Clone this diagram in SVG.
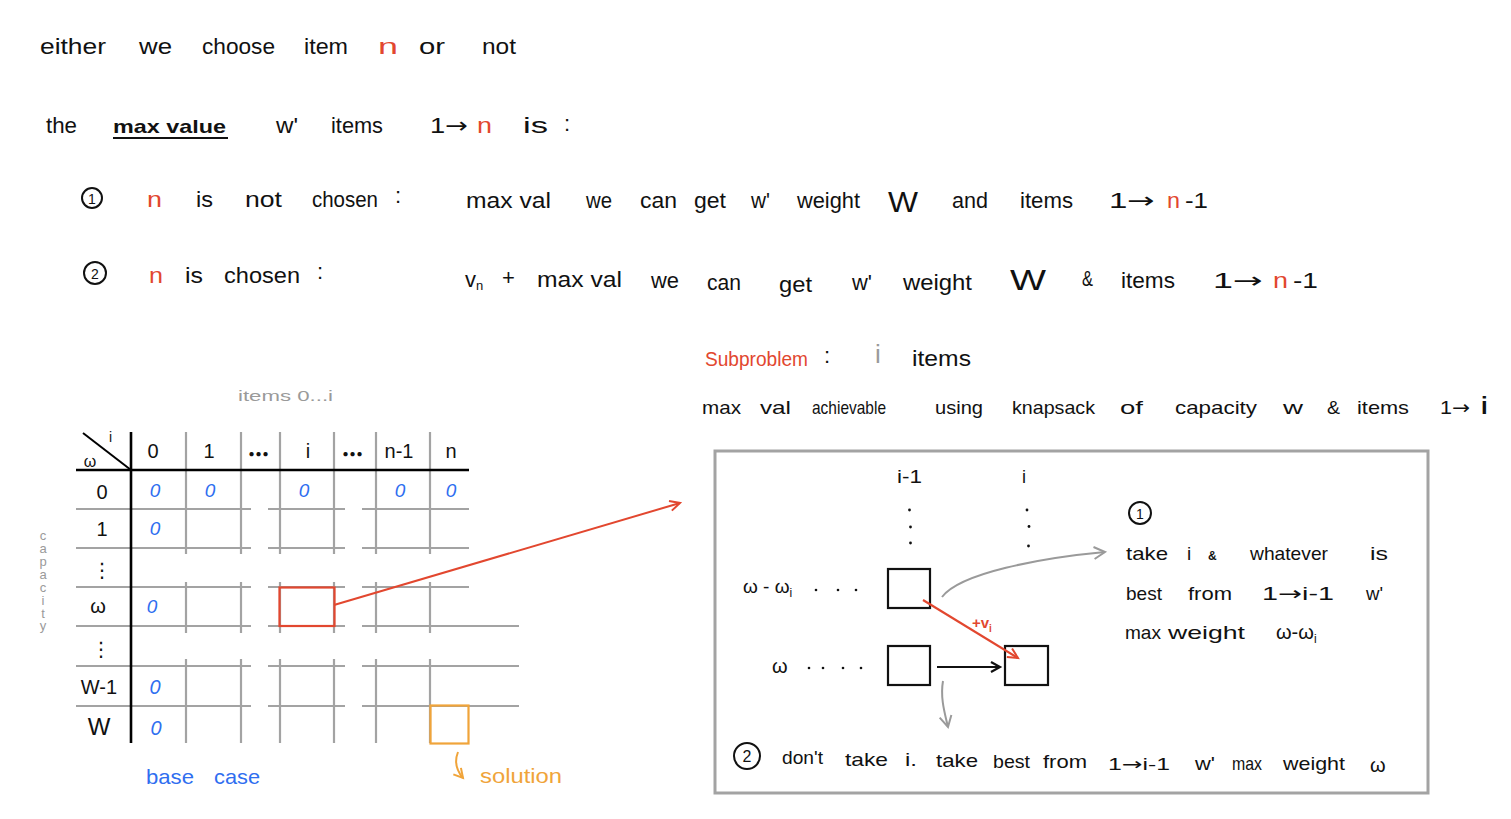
<svg xmlns="http://www.w3.org/2000/svg" width="1511" height="819" viewBox="0 0 1511 819">
<style>
text{font-family:"Liberation Sans","DejaVu Sans",sans-serif;font-size:22px;fill:#111}
.r{fill:#e2472f}
.b{fill:#2f6ef0}
.o{fill:#f0a43a}
.g{fill:#9a9a9a}
.s{font-size:19px}
.tb{font-size:20px}
.ar{font-family:"DejaVu Sans",sans-serif}
.grid{stroke:#a3a3a3;stroke-width:2.2;fill:none}
.thick{stroke:#000;stroke-width:2.6;fill:none}
.bx{stroke:#111;stroke-width:2.2;fill:none}
</style>
<defs>
<marker id="mr" markerUnits="userSpaceOnUse" markerWidth="14" markerHeight="14" refX="11" refY="6" orient="auto"><path d="M1,1 L11,6 L1,11" fill="none" stroke="#e2472f" stroke-width="2"/></marker>
<marker id="mk" markerUnits="userSpaceOnUse" markerWidth="14" markerHeight="14" refX="11" refY="6" orient="auto"><path d="M2,1 L11,6 L2,11" fill="none" stroke="#111" stroke-width="2.2"/></marker>
<marker id="mg" markerUnits="userSpaceOnUse" markerWidth="16" markerHeight="16" refX="13" refY="7" orient="auto"><path d="M2,1 L13,7 L2,13" fill="none" stroke="#9a9a9a" stroke-width="2"/></marker>
<marker id="mo" markerUnits="userSpaceOnUse" markerWidth="14" markerHeight="14" refX="11" refY="6" orient="auto"><path d="M2,1 L11,6 L2,11" fill="none" stroke="#f0a43a" stroke-width="2"/></marker>
</defs>
<rect width="1511" height="819" fill="#fff"/>

<g id="intro">
<text x="40" y="54" textLength="66" lengthAdjust="spacingAndGlyphs">either</text>
<text x="139" y="54" textLength="33" lengthAdjust="spacingAndGlyphs">we</text>
<text x="202" y="54" textLength="73" lengthAdjust="spacingAndGlyphs">choose</text>
<text x="304" y="54" textLength="44" lengthAdjust="spacingAndGlyphs">item</text>
<text class="r" x="378" y="54" textLength="20" lengthAdjust="spacingAndGlyphs">n</text>
<text x="419" y="54" textLength="26" lengthAdjust="spacingAndGlyphs">or</text>
<text x="482" y="54" textLength="34" lengthAdjust="spacingAndGlyphs">not</text>

<text x="46" y="133" textLength="31" lengthAdjust="spacingAndGlyphs">the</text>
<text x="113" y="133" textLength="113" lengthAdjust="spacingAndGlyphs" style="font-size:19px;font-weight:bold">max value</text>
<line x1="113" y1="138" x2="228" y2="138" stroke="#111" stroke-width="2"/>
<text x="276" y="133" textLength="22" lengthAdjust="spacingAndGlyphs">w'</text>
<text x="331" y="133" textLength="52" lengthAdjust="spacingAndGlyphs">items</text>
<text x="430" y="133" textLength="38" lengthAdjust="spacingAndGlyphs">1<tspan class="ar">→</tspan></text>
<text class="r" x="477" y="133" textLength="15" lengthAdjust="spacingAndGlyphs">n</text>
<text x="523" y="133" textLength="25" lengthAdjust="spacingAndGlyphs">is</text>
<text x="564" y="131">:</text>
</g>

<g id="case1">
<circle cx="92" cy="198" r="10" fill="none" stroke="#111" stroke-width="2"/>
<text x="92" y="204" text-anchor="middle" style="font-size:14px">1</text>
<text class="r" x="147" y="207" textLength="15" lengthAdjust="spacingAndGlyphs">n</text>
<text x="196" y="207" textLength="17" lengthAdjust="spacingAndGlyphs">is</text>
<text x="245" y="207" textLength="37" lengthAdjust="spacingAndGlyphs">not</text>
<text x="312" y="207" textLength="66" lengthAdjust="spacingAndGlyphs">chosen</text>
<text x="395" y="203">:</text>
<text x="466" y="208" textLength="85" lengthAdjust="spacingAndGlyphs">max val</text>
<text x="586" y="208" textLength="26" lengthAdjust="spacingAndGlyphs">we</text>
<text x="640" y="208" textLength="37" lengthAdjust="spacingAndGlyphs">can</text>
<text x="694" y="208" textLength="32" lengthAdjust="spacingAndGlyphs">get</text>
<text x="751" y="208" textLength="19" lengthAdjust="spacingAndGlyphs">w'</text>
<text x="797" y="208" textLength="63" lengthAdjust="spacingAndGlyphs">weight</text>
<text x="888" y="212" textLength="30" lengthAdjust="spacingAndGlyphs" style="font-size:30px">W</text>
<text x="952" y="208" textLength="36" lengthAdjust="spacingAndGlyphs">and</text>
<text x="1020" y="208" textLength="53" lengthAdjust="spacingAndGlyphs">items</text>
<text x="1109" y="208" textLength="46" lengthAdjust="spacingAndGlyphs">1<tspan class="ar">→</tspan></text>
<text class="r" x="1167" y="208" textLength="13" lengthAdjust="spacingAndGlyphs">n</text>
<text x="1185" y="208" textLength="23" lengthAdjust="spacingAndGlyphs">-1</text>
</g>

<g id="case2">
<circle cx="95" cy="273" r="11" fill="none" stroke="#111" stroke-width="2"/>
<text x="95" y="279" text-anchor="middle" style="font-size:14px">2</text>
<text class="r" x="149" y="283" textLength="14" lengthAdjust="spacingAndGlyphs">n</text>
<text x="185" y="283" textLength="18" lengthAdjust="spacingAndGlyphs">is</text>
<text x="224" y="283" textLength="76" lengthAdjust="spacingAndGlyphs">chosen</text>
<text x="317" y="279">:</text>
<text x="465" y="287">v<tspan style="font-size:13px" dy="3">n</tspan></text>
<text x="502" y="285">+</text>
<text x="537" y="287" textLength="85" lengthAdjust="spacingAndGlyphs">max val</text>
<text x="651" y="288" textLength="28" lengthAdjust="spacingAndGlyphs">we</text>
<text x="707" y="290" textLength="34" lengthAdjust="spacingAndGlyphs">can</text>
<text x="779" y="292" textLength="33" lengthAdjust="spacingAndGlyphs">get</text>
<text x="852" y="290" textLength="20" lengthAdjust="spacingAndGlyphs">w'</text>
<text x="903" y="290" textLength="69" lengthAdjust="spacingAndGlyphs">weight</text>
<text x="1010" y="290" textLength="36" lengthAdjust="spacingAndGlyphs" style="font-size:30px">W</text>
<text x="1082" y="286" textLength="11" lengthAdjust="spacingAndGlyphs">&amp;</text>
<text x="1121" y="288" textLength="54" lengthAdjust="spacingAndGlyphs">items</text>
<text x="1213" y="288" textLength="50" lengthAdjust="spacingAndGlyphs">1<tspan class="ar">→</tspan></text>
<text class="r" x="1273" y="288" textLength="15" lengthAdjust="spacingAndGlyphs">n</text>
<text x="1293" y="288" textLength="25" lengthAdjust="spacingAndGlyphs">-1</text>
</g>

<g id="subproblem">
<text class="r" x="705" y="366" textLength="103" lengthAdjust="spacingAndGlyphs" style="font-size:20px">Subproblem</text>
<text x="824" y="363">:</text>
<text class="g" x="875" y="363" style="font-size:26px">i</text>
<text x="912" y="366" textLength="59" lengthAdjust="spacingAndGlyphs">items</text>
<text x="702" y="414" textLength="39" lengthAdjust="spacingAndGlyphs" class="s">max</text>
<text x="760" y="414" textLength="31" lengthAdjust="spacingAndGlyphs" class="s">val</text>
<text x="812" y="414" textLength="74" lengthAdjust="spacingAndGlyphs" class="s">achievable</text>
<text x="935" y="414" textLength="48" lengthAdjust="spacingAndGlyphs" class="s">using</text>
<text x="1012" y="414" textLength="83" lengthAdjust="spacingAndGlyphs" class="s">knapsack</text>
<text x="1120" y="414" textLength="23" lengthAdjust="spacingAndGlyphs" class="s">of</text>
<text x="1175" y="414" textLength="82" lengthAdjust="spacingAndGlyphs" class="s">capacity</text>
<text x="1283" y="414" textLength="20" lengthAdjust="spacingAndGlyphs" class="s">w</text>
<text x="1327" y="414" textLength="13" lengthAdjust="spacingAndGlyphs" class="s">&amp;</text>
<text x="1357" y="414" textLength="52" lengthAdjust="spacingAndGlyphs" class="s">items</text>
<text x="1440" y="414" textLength="30" lengthAdjust="spacingAndGlyphs" class="s">1<tspan class="ar">→</tspan></text>
<text x="1481" y="414" style="font-size:24px;font-weight:bold">i</text>
</g>

<g id="table">
<text class="g" x="238" y="401" textLength="95" lengthAdjust="spacingAndGlyphs" style="font-size:15px">items 0...i</text>
<text class="g" style="font-size:13px" text-anchor="middle"><tspan x="43" y="540">c</tspan><tspan x="43" y="553">a</tspan><tspan x="43" y="566">p</tspan><tspan x="43" y="579">a</tspan><tspan x="43" y="592">c</tspan><tspan x="43" y="605">i</tspan><tspan x="43" y="618">t</tspan><tspan x="43" y="630">y</tspan></text>

<path class="grid" d="M186 432V554M186 582V633M186 659V743 M241 432V554M241 582V633M241 659V743 M280 432V554M280 582V633M280 659V743 M334 432V554M334 582V633M334 659V743 M376 432V554M376 582V633M376 659V743 M430 432V554M430 582V633M430 659V743"/>
<path class="grid" d="M76 509H251M268 509H345M362 509H469 M76 548H251M268 548H345M362 548H469 M76 587H251M268 587H345M362 587H469 M76 626H251M268 626H345M362 626H519 M76 666H251M268 666H345M362 666H519 M76 706H251M268 706H345M362 706H519"/>
<path class="thick" d="M76 470H469 M131 432V743"/>
<path d="M83 433L131 470" stroke="#000" stroke-width="2" fill="none"/>
<text x="109" y="442" style="font-size:14px">i</text>
<text x="90" y="467" text-anchor="middle" style="font-size:16px">ω</text>

<text x="153" y="458" text-anchor="middle" class="tb">0</text>
<text x="209" y="458" text-anchor="middle" class="tb">1</text>
<text x="259" y="457" text-anchor="middle" style="font-size:10px;letter-spacing:1px">●●●</text>
<text x="308" y="458" text-anchor="middle" class="tb">i</text>
<text x="353" y="457" text-anchor="middle" style="font-size:10px;letter-spacing:1px">●●●</text>
<text x="399" y="458" text-anchor="middle" class="tb">n-1</text>
<text x="451" y="458" text-anchor="middle" class="tb">n</text>

<text x="102" y="499" text-anchor="middle" class="tb">0</text>
<text x="102" y="536" text-anchor="middle" class="tb">1</text>
<text x="102" y="577" text-anchor="middle" class="tb">⋮</text>
<text x="98" y="613" text-anchor="middle" class="tb">ω</text>
<text x="101" y="656" text-anchor="middle" class="tb">⋮</text>
<text x="99" y="694" text-anchor="middle" class="tb">W-1</text>
<text x="99" y="735" text-anchor="middle" style="font-size:24px">W</text>

<g style="font-style:italic">
<text class="b" x="155" y="497" text-anchor="middle" style="font-size:19px">0</text>
<text class="b" x="210" y="497" text-anchor="middle" style="font-size:19px">0</text>
<text class="b" x="304" y="497" text-anchor="middle" style="font-size:19px">0</text>
<text class="b" x="400" y="497" text-anchor="middle" style="font-size:19px">0</text>
<text class="b" x="451" y="497" text-anchor="middle" style="font-size:19px">0</text>
<text class="b" x="155" y="535" text-anchor="middle" style="font-size:19px">0</text>
<text class="b" x="152" y="613" text-anchor="middle" style="font-size:19px">0</text>
<text class="b" x="155" y="694" text-anchor="middle" style="font-size:20px">0</text>
<text class="b" x="156" y="735" text-anchor="middle" style="font-size:20px">0</text>
</g>

<rect x="279.5" y="587.5" width="55" height="38.5" fill="none" stroke="#e2472f" stroke-width="2.2"/>
<rect x="430.5" y="705.5" width="38" height="38" fill="none" stroke="#f0a43a" stroke-width="2.2"/>
<text class="b" x="146" y="784" textLength="48" lengthAdjust="spacingAndGlyphs" style="font-size:21px">base</text>
<text class="b" x="214" y="784" textLength="46" lengthAdjust="spacingAndGlyphs" style="font-size:21px">case</text>
<text class="o" x="480" y="783" textLength="82" lengthAdjust="spacingAndGlyphs" style="font-size:20px">solution</text>
</g>

<g id="recurrence-box">
<rect x="715" y="451" width="713" height="342" fill="none" stroke="#a3a3a3" stroke-width="3"/>
<text x="897" y="483" textLength="25" lengthAdjust="spacingAndGlyphs" style="font-size:18px">i-1</text>
<text x="1022" y="483" style="font-size:18px">i</text>
<g fill="#111">
<circle cx="909.5" cy="510" r="1.4"/><circle cx="910.5" cy="527" r="1.4"/><circle cx="910.5" cy="543" r="1.4"/>
<circle cx="1027" cy="510" r="1.4"/><circle cx="1029" cy="526.5" r="1.4"/><circle cx="1028.5" cy="546" r="1.4"/>
<circle cx="816" cy="590" r="1.3"/><circle cx="838" cy="590" r="1.3"/><circle cx="856" cy="590" r="1.3"/>
<circle cx="809" cy="668" r="1.3"/><circle cx="823" cy="668" r="1.3"/><circle cx="843" cy="668" r="1.3"/><circle cx="861" cy="668" r="1.3"/>
</g>
<text x="743" y="593" style="font-size:19px">ω - ω<tspan style="font-size:12px" dy="4">i</tspan></text>
<text x="772" y="673" style="font-size:20px">ω</text>
<rect x="888" y="569" width="42" height="39" class="bx"/>
<rect x="888" y="646" width="42" height="39" class="bx"/>
<rect x="1005" y="646" width="43" height="39" class="bx"/>
<text class="r" x="972" y="628" style="font-size:15px;font-weight:bold">+v<tspan style="font-size:10px" dy="4">i</tspan></text>

<circle cx="1140" cy="513" r="11" fill="none" stroke="#111" stroke-width="2"/>
<text x="1140" y="519" text-anchor="middle" style="font-size:14px">1</text>
<text x="1126" y="560" textLength="42" lengthAdjust="spacingAndGlyphs" class="s">take</text>
<text x="1187" y="560" class="s">i</text>
<text x="1208" y="560" style="font-size:12px;font-weight:bold">&amp;</text>
<text x="1250" y="560" textLength="78" lengthAdjust="spacingAndGlyphs" class="s">whatever</text>
<text x="1370" y="560" textLength="18" lengthAdjust="spacingAndGlyphs" class="s">is</text>
<text x="1126" y="600" textLength="36" lengthAdjust="spacingAndGlyphs" class="s">best</text>
<text x="1188" y="600" textLength="44" lengthAdjust="spacingAndGlyphs" class="s">from</text>
<text x="1262" y="600" textLength="72" lengthAdjust="spacingAndGlyphs" class="s">1<tspan class="ar">→</tspan>i-1</text>
<text x="1366" y="600" textLength="17" lengthAdjust="spacingAndGlyphs" class="s">w'</text>
<text x="1125" y="639" textLength="36" lengthAdjust="spacingAndGlyphs" class="s">max</text>
<text x="1168" y="639" textLength="77" lengthAdjust="spacingAndGlyphs" class="s">weight</text>
<text x="1276" y="639" style="font-size:20px">ω-ω<tspan style="font-size:12px" dy="4">i</tspan></text>

<circle cx="747" cy="756" r="13" fill="none" stroke="#111" stroke-width="2"/>
<text x="747" y="762" text-anchor="middle" style="font-size:16px">2</text>
<text x="782" y="764" textLength="41" lengthAdjust="spacingAndGlyphs" class="s">don't</text>
<text x="845" y="766" textLength="43" lengthAdjust="spacingAndGlyphs" class="s">take</text>
<text x="905" y="766" textLength="12" lengthAdjust="spacingAndGlyphs" class="s">i.</text>
<text x="936" y="767" textLength="42" lengthAdjust="spacingAndGlyphs" class="s">take</text>
<text x="993" y="768" textLength="37" lengthAdjust="spacingAndGlyphs" class="s">best</text>
<text x="1043" y="768" textLength="44" lengthAdjust="spacingAndGlyphs" class="s">from</text>
<text x="1108" y="770" textLength="62" lengthAdjust="spacingAndGlyphs" style="font-size:17px">1<tspan class="ar">→</tspan>i-1</text>
<text x="1195" y="770" textLength="20" lengthAdjust="spacingAndGlyphs" class="s">w'</text>
<text x="1232" y="770" textLength="30" lengthAdjust="spacingAndGlyphs" class="s">max</text>
<text x="1283" y="770" textLength="62" lengthAdjust="spacingAndGlyphs" class="s">weight</text>
<text x="1370" y="772" style="font-size:20px">ω</text>
</g>

<g id="connectors" fill="none">
<path d="M334 605 L680 503" stroke="#e2472f" stroke-width="2" marker-end="url(#mr)"/>
<path d="M458 752 C454 762 457 771 463 778" stroke="#f0a43a" stroke-width="2" marker-end="url(#mo)"/>
<path d="M937 667 H1000" stroke="#111" stroke-width="2" marker-end="url(#mk)"/>
<path d="M923 600 L1018 658" stroke="#e2472f" stroke-width="2.2" marker-end="url(#mr)"/>
<path d="M942 597 C960 573 1040 558 1105 552" stroke="#9a9a9a" stroke-width="2" marker-end="url(#mg)"/>
<path d="M943 681 C940 698 945 714 948 727" stroke="#9a9a9a" stroke-width="2" marker-end="url(#mg)"/>
</g>
</svg>
